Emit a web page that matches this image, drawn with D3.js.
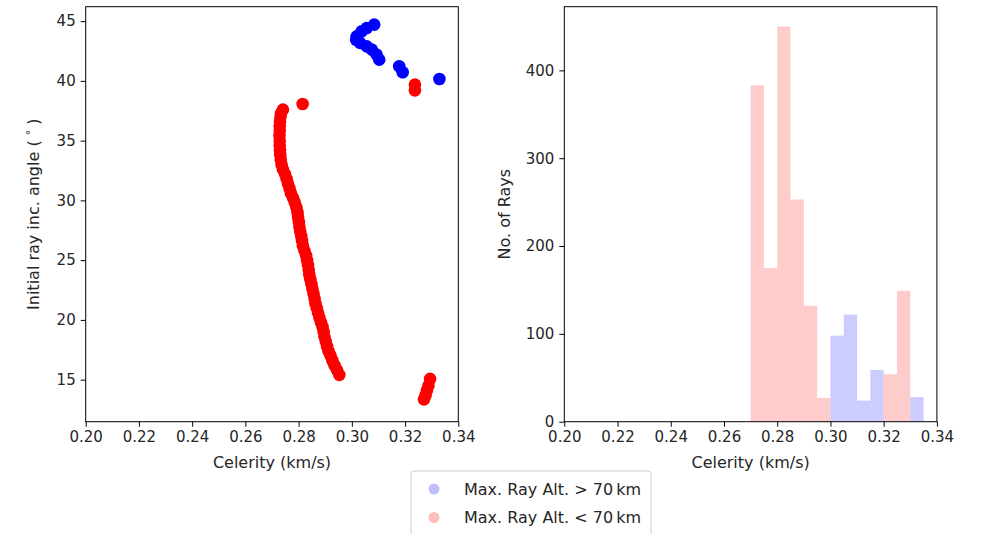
<!DOCTYPE html>
<html>
<head>
<meta charset="utf-8">
<script src="https://cdn.jsdelivr.net/npm/d3@7"></script>
<style>
  html, body { margin: 0; padding: 0; background: #fff; }
  svg { display: block; font-family: "DejaVu Sans", sans-serif; }
</style>
</head>
<body>
<svg id="chart" width="981" height="534"></svg>
<script>
// Rays that reach above 70 km
const blueCelerity = [0.3084, 0.3056, 0.3037, 0.3018, 0.3016, 0.3031, 0.3056, 0.3075, 0.3093, 0.3103, 0.3178, 0.3191, 0.3329];
const blueAngle    = [44.71, 44.43, 44.15, 43.73, 43.45, 43.18, 42.89, 42.62, 42.20, 41.78, 41.22, 40.72, 40.16];

// Rays that stay below 70 km
const redCelerity = [
  0.3237, 0.3237, 0.2815,
  0.2741, 0.2734, 0.2732, 0.2730, 0.2729, 0.2729, 0.2728, 0.2729, 0.2729, 0.2730,
  0.2731, 0.2733, 0.2736, 0.2741, 0.2749, 0.2755, 0.2760, 0.2766, 0.2771, 0.2779,
  0.2786, 0.2792, 0.2796, 0.2798, 0.2801, 0.2803, 0.2806, 0.2810, 0.2813, 0.2816,
  0.2822, 0.2828, 0.2832, 0.2835, 0.2838, 0.2840, 0.2844, 0.2848, 0.2852, 0.2856,
  0.2860, 0.2863, 0.2868, 0.2873, 0.2878, 0.2884, 0.2890, 0.2894, 0.2897, 0.2902,
  0.2907, 0.2912, 0.2920, 0.2927, 0.2935, 0.2944, 0.2953,
  0.3294, 0.3288, 0.3282, 0.3277, 0.3271
];
const redAngle = [
  39.69, 39.21, 38.07,
  37.6, 37.3, 37.0, 36.6, 36.2, 35.8, 35.4, 35.0, 34.6, 34.2,
  33.8, 33.4, 33.0, 32.6, 32.2, 31.8, 31.4, 31.0, 30.6, 30.2,
  29.8, 29.4, 29.0, 28.6, 28.2, 27.8, 27.4, 27.0, 26.6, 26.2,
  25.8, 25.4, 25.0, 24.6, 24.2, 23.8, 23.4, 23.0, 22.6, 22.2,
  21.8, 21.4, 21.0, 20.6, 20.2, 19.8, 19.4, 19.0, 18.6, 18.2,
  17.8, 17.4, 17.0, 16.6, 16.2, 15.8, 15.4, 15.06,
  14.50, 14.10, 13.70, 13.35, 13.00
];

// Histogram of celerities, 0.005 km/s bins
const binEdges   = [0.270, 0.275, 0.280, 0.285, 0.290, 0.295, 0.300, 0.305, 0.310, 0.315, 0.320, 0.325, 0.330, 0.335];
const redCounts  = [383, 175, 450, 253, 132, 27, 0, 0, 0, 0, 54, 149, 0];
const blueCounts = [0, 0, 0, 0, 0, 0, 98, 122, 24, 59, 0, 0, 28];

const xTicks      = [0.20, 0.22, 0.24, 0.26, 0.28, 0.30, 0.32, 0.34];
const angleTicks  = [15, 20, 25, 30, 35, 40, 45];
const countTicks  = [0, 100, 200, 300, 400];
const legendLabels = ["Max. Ray Alt. > 70\u2009km", "Max. Ray Alt. < 70\u2009km"];

const svg = d3.select("#chart");
const TICK_FONT = 15;
const LABEL_FONT = 16;
const plotTop = 6.7, plotBottom = 421.7;

const xLeft  = d3.scaleLinear().domain([0.20, 0.34]).range([85.7, 458.3]);
const yLeft  = d3.scaleLinear().domain([11.48, 46.21]).range([plotBottom, plotTop]);
const xRight = d3.scaleLinear().domain([0.20, 0.34]).range([564.3, 936.9]);
const yRight = d3.scaleLinear().domain([0, 472.5]).range([plotBottom, plotTop]);

function styleAxis(g) {
  g.select(".domain").remove();
  g.selectAll(".tick line").attr("stroke", "#000").attr("stroke-width", 1);
  g.selectAll(".tick text").attr("fill", "#262626").style("font-size", TICK_FONT + "px")
    .style("font-family", "'DejaVu Sans', sans-serif");
}

function drawFrame(x) {
  svg.append("rect")
    .attr("x", x.range()[0]).attr("y", plotTop)
    .attr("width", x.range()[1] - x.range()[0]).attr("height", plotBottom - plotTop)
    .attr("fill", "none").attr("stroke", "#000").attr("stroke-width", 1);
}

// ---- left panel: celerity vs initial angle ----
const left = svg.append("g");
left.selectAll("circle.blue")
  .data(d3.zip(blueCelerity, blueAngle))
  .join("circle")
  .attr("class", "blue")
  .attr("cx", d => xLeft(d[0])).attr("cy", d => yLeft(d[1]))
  .attr("r", 6.3).attr("fill", "#0000ff");
left.selectAll("circle.red")
  .data(d3.zip(redCelerity, redAngle))
  .join("circle")
  .attr("class", "red")
  .attr("cx", d => xLeft(d[0])).attr("cy", d => yLeft(d[1]))
  .attr("r", 6.3).attr("fill", "#ff0000");

svg.append("g").attr("transform", `translate(0,${plotBottom})`)
  .call(d3.axisBottom(xLeft).tickValues(xTicks).tickFormat(d3.format(".2f")).tickSize(5).tickPadding(5))
  .call(styleAxis);
svg.append("g").attr("transform", `translate(${xLeft.range()[0]},0)`)
  .call(d3.axisLeft(yLeft).tickValues(angleTicks).tickFormat(d3.format("d")).tickSize(5).tickPadding(5))
  .call(styleAxis);
drawFrame(xLeft);

svg.append("text")
  .attr("x", (xLeft.range()[0] + xLeft.range()[1]) / 2).attr("y", 468)
  .attr("text-anchor", "middle").attr("fill", "#262626").style("font-size", LABEL_FONT + "px")
  .text("Celerity (km/s)");

const yl = svg.append("text")
  .attr("transform", `translate(39,${(plotTop + plotBottom) / 2}) rotate(-90)`)
  .attr("text-anchor", "middle").attr("fill", "#262626").style("font-size", LABEL_FONT + "px");
yl.append("tspan").text("Initial ray inc. angle ( ");
yl.append("tspan").attr("dy", -5).style("font-size", "11px").text("\u00b0");
yl.append("tspan").attr("dy", 5).text(" )");

// ---- right panel: histogram ----
const bins = d3.range(redCounts.length).map(i => ({
  x0: binEdges[i], x1: binEdges[i + 1], red: redCounts[i], blue: blueCounts[i]
}));
const right = svg.append("g");
right.selectAll("rect.blue")
  .data(bins.filter(b => b.blue > 0))
  .join("rect")
  .attr("class", "blue")
  .attr("x", d => xRight(d.x0)).attr("width", d => xRight(d.x1) - xRight(d.x0))
  .attr("y", d => yRight(d.blue)).attr("height", d => yRight(0) - yRight(d.blue))
  .attr("fill", "#0000ff").attr("fill-opacity", 0.2);
right.selectAll("rect.red")
  .data(bins.filter(b => b.red > 0))
  .join("rect")
  .attr("class", "red")
  .attr("x", d => xRight(d.x0)).attr("width", d => xRight(d.x1) - xRight(d.x0))
  .attr("y", d => yRight(d.red)).attr("height", d => yRight(0) - yRight(d.red))
  .attr("fill", "#ff0000").attr("fill-opacity", 0.2);

svg.append("g").attr("transform", `translate(0,${plotBottom})`)
  .call(d3.axisBottom(xRight).tickValues(xTicks).tickFormat(d3.format(".2f")).tickSize(5).tickPadding(5))
  .call(styleAxis);
svg.append("g").attr("transform", `translate(${xRight.range()[0]},0)`)
  .call(d3.axisLeft(yRight).tickValues(countTicks).tickFormat(d3.format("d")).tickSize(5).tickPadding(5))
  .call(styleAxis);
drawFrame(xRight);

svg.append("text")
  .attr("x", (xRight.range()[0] + xRight.range()[1]) / 2).attr("y", 468)
  .attr("text-anchor", "middle").attr("fill", "#262626").style("font-size", LABEL_FONT + "px")
  .text("Celerity (km/s)");
svg.append("text")
  .attr("transform", `translate(510,${(plotTop + plotBottom) / 2}) rotate(-90)`)
  .attr("text-anchor", "middle").attr("fill", "#262626").style("font-size", LABEL_FONT + "px")
  .text("No. of Rays");

// ---- legend ----
const legend = svg.append("g").attr("transform", "translate(411,471)");
legend.append("rect")
  .attr("x", 0).attr("y", 0).attr("width", 240).attr("height", 80)
  .attr("rx", 3).attr("fill", "#fff").attr("fill-opacity", 0.8)
  .attr("stroke", "#cccccc").attr("stroke-width", 1);
const legendColors = ["#0000ff", "#ff0000"];
legendLabels.forEach((label, i) => {
  const cy = 18 + i * 28.5;
  legend.append("circle").attr("cx", 23).attr("cy", cy).attr("r", 5.5)
    .attr("fill", legendColors[i]).attr("fill-opacity", 0.25);
  legend.append("text").attr("x", 53).attr("y", cy + 5.5)
    .attr("fill", "#262626").style("font-size", LABEL_FONT + "px").text(label);
});
</script>
</body>
</html>
